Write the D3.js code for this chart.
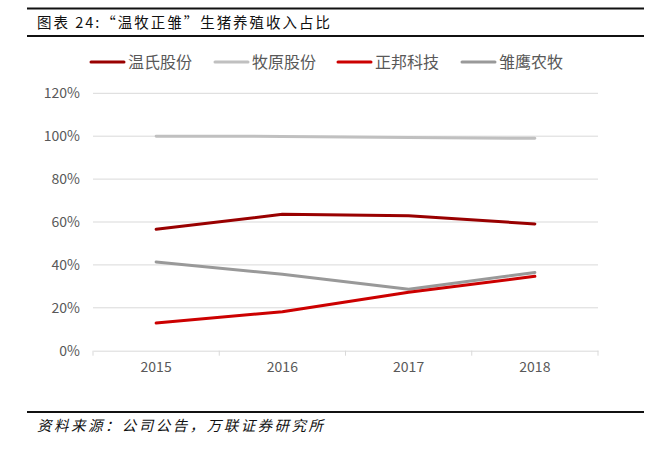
<!DOCTYPE html>
<html><head><meta charset="utf-8">
<script src="https://cdn.jsdelivr.net/npm/d3@7/dist/d3.min.js"></script>
<style>html,body{margin:0;padding:0;background:#fff;}svg{display:block;}</style>
</head><body>
<svg id="c" width="659" height="456"></svg>
<script>
const years = ["2015","2016","2017","2018"];
const seriesNames = ["温氏股份","牧原股份","正邦科技","雏鹰农牧"];
const wensValues = [56.6, 63.6, 62.9, 59.1];
const muyuanValues = [100.0, 99.9, 99.4, 99.0];
const zhengbangValues = [12.9, 18.2, 27.2, 34.7];
const chuyingValues = [41.4, 35.6, 28.6, 36.5];
const yTicks = [0,20,40,60,80,100,120];
const colors = ["#990000","#c0c0c0","#cc0000","#999999"];
const title = "图表 24:“温牧正雏”生猪养殖收入占比";
const source = "资料来源：公司公告，万联证券研究所";

const data = [wensValues, muyuanValues, zhengbangValues, chuyingValues];
const drawOrder = [1,3,2,0];

const svg = d3.select("#c");
const font = "'Noto Sans CJK SC', 'Noto Sans', sans-serif";

// rules
svg.append("rect").attr("x",27).attr("y",7.5).attr("width",617).attr("height",2).attr("fill","#111");
svg.append("rect").attr("x",27).attr("y",35).attr("width",617).attr("height",2).attr("fill","#111");
svg.append("rect").attr("x",27).attr("y",411).attr("width",617).attr("height",2).attr("fill","#111");

svg.append("text").attr("x",37).attr("y",28).attr("font-family",font).attr("font-size",14.5)
  .attr("textLength",293).attr("lengthAdjust","spacing")
  .attr("fill","#111").text(title);
svg.append("text").attr("x",37).attr("y",431).attr("font-family",font).attr("font-size",14.5)
  .attr("textLength",286).attr("lengthAdjust","spacing")
  .attr("font-style","italic").attr("fill","#111").text(source);

const x = d3.scaleBand().domain(years).range([93,598]);
const y = d3.scaleLinear().domain([0,120]).range([350.7,93.3]);

// grid
svg.append("g").selectAll("line").data(yTicks.filter(d=>d>0)).join("line")
  .attr("x1",93).attr("x2",598).attr("y1",d=>y(d)).attr("y2",d=>y(d))
  .attr("stroke","#d9d9d9").attr("stroke-width",1);

// y axis labels
const yAxis = d3.axisLeft(y).tickValues(yTicks).tickFormat(d=>d+"%").tickSize(0).tickPadding(12);
const ya = svg.append("g").attr("transform","translate(92,0)").call(yAxis);
ya.select(".domain").remove();
ya.selectAll("text").attr("font-family",font).attr("font-size",14).attr("fill","#595959");

// x axis
const xAxis = d3.axisBottom(x).tickSize(0).tickPadding(11);
const xa = svg.append("g").attr("transform",`translate(0,${y(0)})`).call(xAxis);
xa.select(".domain").attr("stroke","#d9d9d9");
xa.selectAll("text").attr("font-family",font).attr("font-size",14).attr("fill","#595959");
const bounds = years.map(d=>x(d)).concat([x(years[years.length-1])+x.bandwidth()]);
svg.selectAll("line.xt").data(bounds).join("line")
  .attr("x1",d=>d).attr("x2",d=>d).attr("y1",y(0)).attr("y2",y(0)+5)
  .attr("stroke","#d9d9d9");

// lines
const line = d3.line().x((d,i)=>x(years[i])+x.bandwidth()/2).y(d=>y(d));
drawOrder.forEach(k=>{
  svg.append("path").datum(data[k]).attr("d",line).attr("fill","none")
    .attr("stroke",colors[k]).attr("stroke-width",3).attr("stroke-linejoin","round").attr("stroke-linecap","round");
});

// legend
const legX = [91,215,338,462];
seriesNames.forEach((n,i)=>{
  svg.append("line").attr("x1",legX[i]).attr("x2",legX[i]+33).attr("y1",62).attr("y2",62)
    .attr("stroke",colors[i]).attr("stroke-width",3).attr("stroke-linecap","round");
  svg.append("text").attr("x",legX[i]+37).attr("y",67.5).attr("font-family",font).attr("font-size",16)
    .attr("fill","#595959").text(n);
});
</script>
</body></html>
